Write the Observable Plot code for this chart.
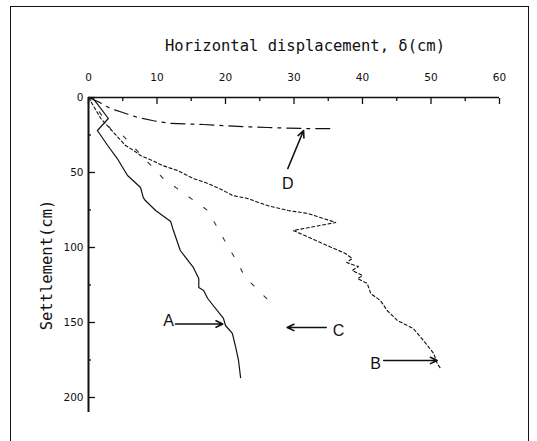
<!DOCTYPE html>
<html>
<head>
<meta charset="utf-8">
<script src="https://cdn.jsdelivr.net/npm/d3@7"></script>
<script src="https://cdn.jsdelivr.net/npm/@observablehq/plot@0.6"></script>
<style>
  html, body { margin: 0; padding: 0; background: #fff; }
  #wrap { position: relative; width: 537px; height: 441px; overflow: hidden; }
  #frame { position: absolute; left: 10px; top: 6px; width: 519px; height: 470px; border: 1.6px solid #111; box-sizing: border-box; }
  #title { position: absolute; left: 0; width: 610px; top: 37px; text-align: center; font-family: "DejaVu Sans Mono", monospace; font-size: 15.5px; color: #111; }
  #chart { position: absolute; left: 0; top: 0; }
</style>
</head>
<body>
<div id="wrap">
  <div id="frame"></div>
  <div id="title">Horizontal displacement, δ(cm)</div>
  <div id="chart"></div>
</div>
<script>
// ---- data (horizontal displacement δ in cm, settlement in cm) ----
const curveA = [[0,0],[0.7,0.7],[2.9,14],[1.3,22],[2.8,32],[4.2,40.7],[5.7,52],[7.6,60],[8.0,66.7],[8.3,68.7],[9.8,75.3],[12.0,82.7],[12.3,87.3],[13.4,102],[14.2,106.7],[15.3,113.3],[16.1,120.7],[16.1,126.7],[16.8,128.7],[17.4,134],[19.7,147.3],[20.0,152],[21.0,157.3],[21.5,166.7],[21.9,175.3],[22.2,186.7]];
const curveB = [[0,0],[1.8,14],[5.4,32],[6.6,35.3],[7.6,38.7],[9.3,42],[10.8,45.3],[13.0,48.7],[15.3,54],[17.4,57.3],[19.7,62],[21.0,65.3],[23.2,67.3],[26.1,72],[29.1,75.3],[32.0,77.3],[36.1,83.3],[29.9,88.7],[37.5,104],[38.5,107.3],[37.7,110],[39.4,112.7],[38.5,115.3],[40.0,118.7],[39.3,120.7],[40.7,124],[41.2,130.7],[42.6,135.3],[43.6,142],[45.1,148.7],[47.4,154],[48.9,162],[50.4,170.7],[50.9,177.3],[51.4,180.7]];
const curveC = [[0,0],[2.5,15.3],[3.5,23.3],[5.0,25.3],[10.1,50],[10.9,54],[17.4,75.3],[20.7,102],[21.8,110],[22.5,116.7],[22.9,120],[26.3,135.3],[27.3,140.7]];
const curveD = [[0,0],[1.5,3],[3.2,7.3],[5.0,10],[7.2,13.3],[9.5,15.5],[12.0,17.3],[16.8,18],[21.8,19.3],[26.1,20],[31.7,20.7],[35.3,20.7]];

const curveNames = ["A", "B", "C", "D"];
// arrows [x1, y1, x2, y2] pointing at each curve
const arrowsData = [[12.7,151,19.6,151],[43.1,175.3,50.9,175.3],[34.7,153.3,29.0,153.3],[29.1,47.3,31.4,22]];
// curve label positions [x, y]
const labelPos = [[11.7,148.7],[41.9,177.3],[36.5,155.3],[29.1,57.3]];

const xMajor = [0,10,20,30,40,50,60];
const xMinor = [5,15,25,35,45,55];
const yMajor = [0,50,100,150,200];
const yMinor = [25,75,125,175];
const yLabel = "Settlement(cm)";

const toRows = (arr) => arr.map(([x, y]) => ({x, y}));
const arrows = arrowsData.map(([x1,y1,x2,y2]) => ({x1,y1,x2,y2}));
const labels = labelPos.map(([x,y], i) => ({x, y, t: curveNames[i]}));

const chart = Plot.plot({
  width: 537,
  height: 441,
  marginLeft: 88,
  marginRight: 38,
  marginTop: 97,
  marginBottom: 29,
  style: {background: "transparent", color: "#111"},
  x: {domain: [0, 60]},
  y: {domain: [0, 210], reverse: true},
  marks: [
    Plot.axisX({anchor: "top", ticks: xMajor, tickSize: -6, tickFormat: () => "", strokeWidth: 1.3, label: null}),
    Plot.axisX({anchor: "top", ticks: xMinor, tickSize: -3, tickFormat: () => "", strokeWidth: 1.3, label: null}),
    Plot.axisX({anchor: "top", ticks: xMajor, tickSize: 0, tickPadding: 17, fontSize: 10.5, fontFamily: "DejaVu Sans", label: null}),
    Plot.axisY({anchor: "left", ticks: yMajor, tickSize: -7, tickFormat: () => "", strokeWidth: 1.3, label: null}),
    Plot.axisY({anchor: "left", ticks: yMinor, tickSize: -3, tickFormat: () => "", strokeWidth: 1.3, label: null}),
    Plot.axisY({anchor: "left", ticks: yMajor, tickSize: 0, tickPadding: 5, fontSize: 10.5, fontFamily: "DejaVu Sans", label: null}),
    Plot.text([yLabel], {frameAnchor: "left", textAnchor: "middle", rotate: -90, dx: -41, dy: 10, fontSize: "15.5px", fontFamily: "DejaVu Sans Mono", fill: "#111"}),
    Plot.ruleY([0], {stroke: "#111", strokeWidth: 1.5}),
    Plot.ruleX([0], {stroke: "#111", strokeWidth: 2}),
    Plot.line(toRows(curveA), {x: "x", y: "y", stroke: "#111", strokeWidth: 1.2}),
    Plot.line(toRows(curveB), {x: "x", y: "y", stroke: "#111", strokeWidth: 1.1, strokeDasharray: "3,2.5"}),
    Plot.line(toRows(curveC), {x: "x", y: "y", stroke: "#333", strokeWidth: 1.1, strokeDasharray: "4,14"}),
    Plot.line(toRows(curveD), {x: "x", y: "y", stroke: "#111", strokeWidth: 1.2, strokeDasharray: "14,6,3,6"}),
    Plot.arrow(arrows, {x1: "x1", y1: "y1", x2: "x2", y2: "y2", stroke: "#111", strokeWidth: 1.6, headLength: 7, headAngle: 50}),
    Plot.text(labels, {x: "x", y: "y", text: "t", fontSize: 16, fontFamily: "Liberation Sans", fill: "#111"})
  ]
});
document.getElementById("chart").appendChild(chart);
</script>
</body>
</html>
